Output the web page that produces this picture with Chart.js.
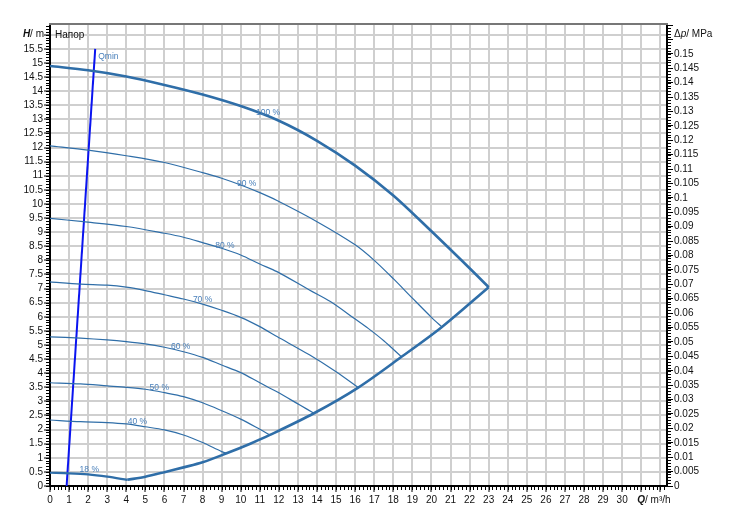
<!DOCTYPE html>
<html>
<head>
  <meta charset="utf-8">
  <title>Напор</title>
  <script src="https://cdn.jsdelivr.net/npm/chart.js"></script>
  <style>
    body { margin: 0; background: #fff; }
    #wrap { width: 734px; height: 523px; position: relative; }
  </style>
</head>
<body>
  <div id="wrap"><canvas id="chart"></canvas></div>

  <script>
    // flow Q (m3/h) and head H (m)
    var q100 = [0, 2, 4, 6, 8, 10, 12, 14, 16, 18, 20, 22, 23.0];
    var h100 = [14.89, 14.74, 14.52, 14.22, 13.88, 13.47, 12.95, 12.24, 11.36, 10.3, 9.03, 7.72, 7.05];
    var q90 = [0, 2.0, 4.0, 6.0, 8.0, 9.0, 10.0, 11.0, 11.9, 14.0, 16.0, 17.0, 18.0, 19.0, 20.0, 20.55];
    var h90 = [12.06, 11.91, 11.71, 11.47, 11.11, 10.91, 10.67, 10.4, 10.12, 9.37, 8.55, 8.0, 7.35, 6.66, 5.98, 5.64];
    var q80 = [0, 1.75, 4.0, 6.0, 7.0, 8.0, 9.0, 10.0, 11.0, 11.9, 13.6, 14.7, 16.0, 16.7, 17.5, 18.43];
    var h80 = [9.49, 9.37, 9.2, 8.96, 8.82, 8.63, 8.43, 8.19, 7.87, 7.6, 6.95, 6.54, 5.92, 5.58, 5.15, 4.58];
    var q70 = [0, 1.6, 3.0, 4.0, 5.0, 6.0, 7.0, 8.0, 9.0, 10.0, 11.0, 11.9, 13.6, 15.0, 16.16];
    var h70 = [7.24, 7.16, 7.12, 7.05, 6.93, 6.78, 6.63, 6.45, 6.23, 5.98, 5.65, 5.3, 4.65, 4.05, 3.49];
    var q60 = [0, 1.6, 3.0, 4.0, 5.0, 6.0, 7.0, 8.0, 9.0, 10.0, 11.0, 11.9, 13.1, 13.84];
    var h60 = [5.29, 5.24, 5.18, 5.12, 5.04, 4.92, 4.76, 4.56, 4.29, 4.02, 3.66, 3.34, 2.87, 2.58];
    var q50 = [0, 1.6, 3.0, 4.0, 5.0, 6.0, 7.0, 8.0, 9.0, 10.0, 11.0, 11.53];
    var h50 = [3.66, 3.62, 3.55, 3.5, 3.43, 3.31, 3.17, 2.95, 2.67, 2.37, 2.01, 1.81];
    var q40 = [0, 1.6, 3.0, 4.0, 5.0, 6.0, 7.0, 8.0, 9.0, 9.26];
    var h40 = [2.34, 2.28, 2.25, 2.2, 2.1, 1.99, 1.81, 1.54, 1.22, 1.16];
    var q18 = [0, 1.0, 2.0, 3.0, 4.05];
    var h18 = [0.47, 0.45, 0.41, 0.33, 0.22];
    // end-of-curve boundary
    var qEnd = [4.05, 5.0, 6.0, 7.0, 8.0, 9.26, 10.5, 11.53, 13.84, 16.16, 18.43, 20.55, 23.0];
    var hEnd = [0.22, 0.33, 0.49, 0.66, 0.84, 1.16, 1.5, 1.81, 2.58, 3.49, 4.58, 5.64, 7.05];
    // Qmin line
    var qMin = [0.87, 2.37];
    var hMin = [0, 15.5];

    var curveNames = ["100 %", "90 %", "80 %", "70 %", "60 %", "50 %", "40 %", "18 %"];
    var labelQ = [11.43, 10.31, 9.17, 8.0, 6.85, 5.73, 4.58, 2.06];

    var xMax = 32.35;
    var hMax = 16.38;
    var mpaPerM = 0.00979;

    var blue = "#2f6ea8";
    var font = "'Liberation Sans', Arial, sans-serif";

    function pts(qs, hs) {
      var out = [];
      for (var i = 0; i < qs.length; i++) out.push({ x: qs[i], y: hs[i] });
      return out;
    }

    function curve(name, qs, hs, w) {
      return {
        label: name,
        data: pts(qs, hs),
        showLine: true,
        borderColor: blue,
        borderWidth: w,
        pointRadius: 0,
        tension: 0.3,
        fill: false
      };
    }

    var datasets = [
      curve("100 %", q100, h100, 2.6),
      curve("90 %", q90, h90, 1.2),
      curve("80 %", q80, h80, 1.2),
      curve("70 %", q70, h70, 1.2),
      curve("60 %", q60, h60, 1.2),
      curve("50 %", q50, h50, 1.2),
      curve("40 %", q40, h40, 1.2),
      curve("18 %", q18, h18, 2.2),
      curve("end", qEnd, hEnd, 2.6),
      {
        label: "Qmin",
        data: pts(qMin, hMin),
        showLine: true,
        borderColor: "#0a14f0",
        borderWidth: 2,
        pointRadius: 0,
        fill: false
      }
    ];

    function interpH(qs, hs, q) {
      for (var i = 1; i < qs.length; i++) {
        if (q <= qs[i]) {
          var t = (q - qs[i - 1]) / (qs[i] - qs[i - 1]);
          return hs[i - 1] + t * (hs[i] - hs[i - 1]);
        }
      }
      return hs[hs.length - 1];
    }

    // minor ticks, axis titles, curve labels
    var extras = {
      id: "extras",
      afterDraw: function (chart) {
        var ctx = chart.ctx, a = chart.chartArea;
        var sx = chart.scales.x, sy = chart.scales.y, sy2 = chart.scales.y2;
        ctx.save();

        ctx.strokeStyle = "#777";
        ctx.lineWidth = 2;
        ctx.beginPath();
        ctx.moveTo(a.left - 1, a.top);
        ctx.lineTo(a.right + 1, a.top);
        ctx.stroke();

        ctx.strokeStyle = "#000";
        ctx.lineWidth = 1;
        ctx.beginPath();
        var i, p;
        for (i = 0; i * 0.2 <= xMax; i++) {
          p = Math.round(sx.getPixelForValue(i * 0.2)) + 0.5;
          ctx.moveTo(p, a.bottom);
          ctx.lineTo(p, a.bottom + 4);
        }
        for (i = 0; i * 0.1 <= hMax; i++) {
          p = Math.round(sy.getPixelForValue(i * 0.1)) + 0.5;
          ctx.moveTo(a.left, p);
          ctx.lineTo(a.left - 4, p);
        }
        for (i = 0; i * 0.001 <= hMax * mpaPerM; i++) {
          p = Math.round(sy2.getPixelForValue(i * 0.001)) + 0.5;
          ctx.moveTo(a.right, p);
          ctx.lineTo(a.right + 4, p);
        }
        ctx.stroke();

        // axis titles
        var ty = sy.getPixelForValue(16);
        ctx.fillStyle = "#111";
        ctx.textBaseline = "middle";
        ctx.textAlign = "left";
        ctx.font = "10px " + font;
        var wm = ctx.measureText("/ m").width;
        ctx.font = "italic bold 10px " + font;
        var wh = ctx.measureText("H").width;
        var tx = a.left - 6 - wm - wh;
        ctx.fillText("H", tx, ty);
        ctx.font = "10px " + font;
        ctx.fillText("/ m", tx + wh, ty);

        tx = a.right + 7;
        ctx.fillText("Δ", tx, ty);
        tx += ctx.measureText("Δ").width;
        ctx.font = "italic 10px " + font;
        ctx.fillText("p", tx, ty);
        tx += ctx.measureText("p").width;
        ctx.font = "10px " + font;
        ctx.fillText("/ MPa", tx, ty);

        var qy = a.bottom + 14;
        tx = sx.getPixelForValue(31) - 4;
        ctx.font = "italic bold 10px " + font;
        ctx.fillText("Q", tx, qy);
        tx += ctx.measureText("Q").width;
        ctx.font = "10px " + font;
        ctx.fillText("/ m³/h", tx, qy);

        ctx.fillText("Напор", a.left + 5, a.top + 11);

        // curve labels
        var qs = [q100, q90, q80, q70, q60, q50, q40, q18];
        var hs = [h100, h90, h80, h70, h60, h50, h40, h18];
        ctx.fillStyle = "#4a80bb";
        ctx.font = "8.5px " + font;
        ctx.textAlign = "center";
        for (i = 0; i < curveNames.length; i++) {
          var lx = sx.getPixelForValue(labelQ[i]);
          var ly = sy.getPixelForValue(interpH(qs[i], hs[i], labelQ[i])) - (i === 7 ? 5 : 4);
          ctx.fillText(curveNames[i], lx, ly);
        }
        ctx.textAlign = "left";
        ctx.fillText("Qmin", sx.getPixelForValue(qMin[1]) + 3, sy.getPixelForValue(hMin[1]) + 8);

        ctx.restore();
      }
    };

    var ctx = document.getElementById("chart").getContext("2d");
    var chart = new Chart(ctx, {
      type: "scatter",
      data: { datasets: datasets },
      plugins: [extras],
      options: {
        responsive: true,
        maintainAspectRatio: false,
        animation: false,
        layout: { padding: { top: 24, left: 0, right: 0, bottom: 0 } },
        plugins: { legend: { display: false }, tooltip: { enabled: false } },
        scales: {
          x: {
            type: "linear",
            min: 0,
            max: xMax,
            afterFit: function (s) { s.height = 37; },
            border: { color: "#000", width: 2 },
            grid: { color: "#cfcfcf", lineWidth: 2, tickColor: "#000", tickWidth: 1, tickLength: 6 },
            ticks: {
              stepSize: 1,
              includeBounds: false,
              autoSkip: false,
              maxRotation: 0,
              padding: 2,
              color: "#111",
              font: { family: font, size: 10 },
              callback: function (v) { return v <= 30 ? String(v) : ""; }
            }
          },
          y: {
            type: "linear",
            position: "left",
            min: 0,
            max: hMax,
            afterFit: function (s) { s.width = 50; },
            border: { color: "#000", width: 2 },
            grid: { color: "#cfcfcf", lineWidth: 2, tickColor: "#000", tickWidth: 1, tickLength: 6 },
            ticks: {
              stepSize: 0.5,
              includeBounds: false,
              autoSkip: false,
              padding: 1,
              color: "#111",
              font: { family: font, size: 10 },
              callback: function (v) { return v < 16 ? String(v) : ""; }
            }
          },
          y2: {
            type: "linear",
            position: "right",
            min: 0,
            max: hMax * mpaPerM,
            afterFit: function (s) { s.width = 67; },
            border: { color: "#000", width: 2 },
            grid: { drawOnChartArea: false, tickColor: "#000", tickWidth: 1, tickLength: 6 },
            ticks: {
              stepSize: 0.005,
              includeBounds: false,
              autoSkip: false,
              padding: 1,
              color: "#111",
              font: { family: font, size: 10 },
              callback: function (v) { return v < 0.1525 ? String(parseFloat(v.toFixed(3))) : ""; }
            }
          }
        }
      }
    });
  </script>
</body>
</html>
